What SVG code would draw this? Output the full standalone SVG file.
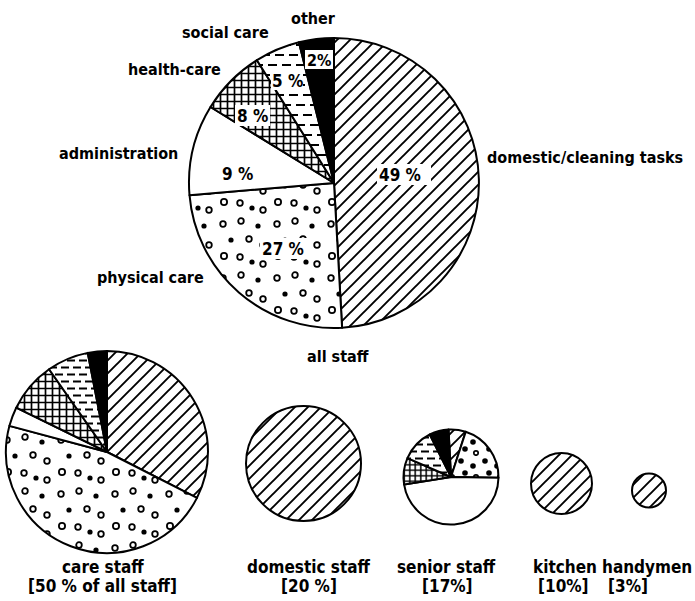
<svg xmlns="http://www.w3.org/2000/svg" width="695" height="601" viewBox="0 0 695 601">
<style>
.w{stroke:#000;stroke-width:2;stroke-linejoin:round}
.t{font-family:"DejaVu Sans Condensed","DejaVu Sans",sans-serif;font-weight:bold;font-size:16px;fill:#000}
.b{font-size:17px}
.p{font-size:17px}
.bg{fill:#fff;stroke:none}
</style>
<defs>
<pattern id="hatch" width="13" height="13" patternUnits="userSpaceOnUse">
<path d="M-2,15 L15,-2 M-2,2 L2,-2 M11,15 L15,11" stroke="#000" stroke-width="1.9"/>
</pattern>
<pattern id="cross" width="7" height="7" patternUnits="userSpaceOnUse">
<rect width="7" height="7" fill="#fff"/>
<path d="M3.5,0 V7 M0,3.5 H7" stroke="#000" stroke-width="1.7"/>
</pattern>
<pattern id="cross5" width="5.5" height="5.5" patternUnits="userSpaceOnUse">
<rect width="5.5" height="5.5" fill="#fff"/>
<path d="M2.75,0 V5.5 M0,2.75 H5.5" stroke="#000" stroke-width="1.5"/>
</pattern>
<pattern id="dash" width="14" height="20" patternUnits="userSpaceOnUse">
<rect width="14" height="20" fill="#fff"/>
<path d="M2,5 h9 M9,15 h9 M-5,15 h9" stroke="#000" stroke-width="2"/>
</pattern>
<pattern id="dashs" width="12" height="14" patternUnits="userSpaceOnUse">
<rect width="12" height="14" fill="#fff"/>
<path d="M1,3.5 h8 M7,10.5 h8 M-5,10.5 h8" stroke="#000" stroke-width="1.8"/>
</pattern>
<pattern id="dots" width="54" height="54" patternUnits="userSpaceOnUse">
<rect width="54" height="54" fill="#fff"/>
<g fill="none" stroke="#000" stroke-width="1.8">
<circle cx="7" cy="8" r="2.8"/><circle cx="25" cy="5" r="2.8"/><circle cx="33" cy="23" r="2.8"/>
<circle cx="47" cy="29" r="2.8"/><circle cx="8" cy="40" r="3.1"/><circle cx="24" cy="41" r="2.8"/>
<circle cx="47" cy="48" r="2.8"/>
</g>
<g fill="#000"><circle cx="42" cy="10" r="2.6"/><circle cx="15" cy="24" r="2.6"/><circle cx="36" cy="46" r="2.6"/></g>
</pattern>
<pattern id="dotsb" width="24" height="24" patternUnits="userSpaceOnUse">
<rect width="24" height="24" fill="#fff"/>
<g fill="#000"><circle cx="5" cy="5" r="2.8"/><circle cx="17" cy="10" r="2.8"/><circle cx="9" cy="17" r="2.8"/></g>
<circle cx="20" cy="21" r="2.2" fill="none" stroke="#000" stroke-width="1.7"/>
</pattern>
</defs>
<rect width="695" height="601" fill="#fff"/>

<g id="all-staff">
<path class="w" fill="url(#hatch)" d="M334,183 L334,38 A145,145 0 0 1 342.09,327.77 Z"/>
<path class="w" fill="url(#dots)" d="M334,183 L342.09,327.77 A145,145 0 0 1 189.51,195.13 Z"/>
<path class="w" fill="#fff" d="M334,183 L189.51,195.13 A145,145 0 0 1 210.50,107.02 Z"/>
<path class="w" fill="url(#cross)" d="M334,183 L210.50,107.02 A145,145 0 0 1 256.95,60.17 Z"/>
<path class="w" fill="url(#dash)" d="M334,183 L256.95,60.17 A145,145 0 0 1 298.92,42.31 Z"/>
<path class="w" fill="#000" d="M334,183 L298.92,42.31 A145,145 0 0 1 334,38 Z"/>
<rect class="bg" x="377" y="164" width="54" height="21"/>
<rect class="bg" x="260" y="238" width="48" height="21"/>
<rect class="bg" x="235" y="105" width="35" height="21"/>
<rect class="bg" x="271" y="70" width="32" height="20"/>
<rect class="bg" x="305" y="50" width="28" height="19"/>
<text class="t p" x="379" y="181">49 %</text>
<text class="t p" x="262" y="255">27 %</text>
<text class="t p" x="222" y="180">9 %</text>
<text class="t p" x="237" y="122">8 %</text>
<text class="t p" x="272" y="87">5 %</text>
<text class="t" x="307" y="66">2%</text>
<text class="t" x="291" y="24">other</text>
<text class="t" x="182" y="38">social care</text>
<text class="t" x="128" y="75">health-care</text>
<text class="t" x="59" y="159">administration</text>
<text class="t" x="97" y="283">physical care</text>
<text class="t" x="487" y="163">domestic/cleaning tasks</text>
<text class="t" x="307" y="362">all staff</text>
</g>

<g id="care-staff">
<path class="w" fill="url(#hatch)" d="M107,452 L107,351 A101,101 0 0 1 196.99,497.85 Z"/>
<path class="w" fill="url(#dots)" d="M107,452 L196.99,497.85 A101,101 0 0 1 9.44,425.86 Z"/>
<path class="w" fill="#fff" d="M107,452 L9.44,425.86 A101,101 0 0 1 16.22,407.72 Z"/>
<path class="w" fill="url(#cross)" d="M107,452 L16.22,407.72 A101,101 0 0 1 49.07,369.26 Z"/>
<path class="w" fill="url(#dashs)" d="M107,452 L49.07,369.26 A101,101 0 0 1 87.73,352.86 Z"/>
<path class="w" fill="#000" d="M107,452 L87.73,352.86 A101,101 0 0 1 107,351 Z"/>
<text class="t b" x="62" y="573">care staff</text>
<text class="t b" x="28" y="592">[50 % of all staff]</text>
</g>

<g id="domestic-staff">
<circle class="w" fill="url(#hatch)" cx="303.5" cy="463.5" r="57.5"/>
<text class="t b" x="247" y="573">domestic staff</text>
<text class="t b" x="281" y="592">[20 %]</text>
</g>

<g id="senior-staff">
<path class="w" fill="url(#hatch)" d="M451,477 L448.51,429.57 A47.5,47.5 0 0 1 465.68,431.82 Z"/>
<path class="w" fill="url(#dotsb)" d="M451,477 L465.68,431.82 A47.5,47.5 0 0 1 498.49,477.83 Z"/>
<path class="w" fill="#fff" d="M451,477 L498.49,477.83 A47.5,47.5 0 0 1 404.08,484.43 Z"/>
<path class="w" fill="url(#cross5)" d="M451,477 L404.08,484.43 A47.5,47.5 0 0 1 407.44,458.06 Z"/>
<path class="w" fill="url(#dashs)" d="M451,477 L407.44,458.06 A47.5,47.5 0 0 1 429.80,434.49 Z"/>
<path class="w" fill="#000" d="M451,477 L429.80,434.49 A47.5,47.5 0 0 1 448.51,429.57 Z"/>
<text class="t b" x="397" y="573">senior staff</text>
<text class="t b" x="422" y="592">[17%]</text>
</g>

<g id="kitchen">
<circle class="w" fill="url(#hatch)" cx="561.5" cy="483.5" r="30.5"/>
<text class="t b" x="533" y="573">kitchen</text>
<text class="t b" x="538" y="592">[10%]</text>
</g>

<g id="handymen">
<circle class="w" fill="url(#hatch)" cx="649" cy="490.5" r="17"/>
<text class="t b" x="602" y="573">handymen</text>
<text class="t b" x="608" y="592">[3%]</text>
</g>
<g id="connectors"/>
</svg>
